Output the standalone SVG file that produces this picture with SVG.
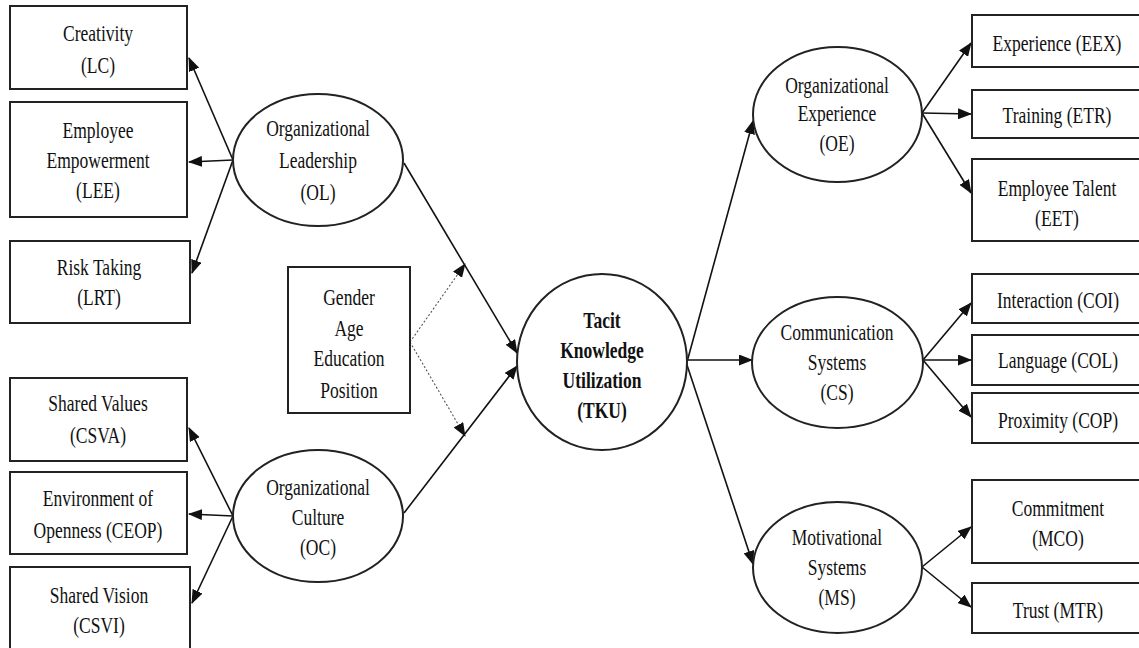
<svg xmlns="http://www.w3.org/2000/svg" width="1139" height="648" viewBox="0 0 1139 648">
<style>
.box{fill:#fff;stroke:#222;stroke-width:2}
.ell{fill:#fff;stroke:#222;stroke-width:2}
.t{font-family:"Liberation Serif","Times New Roman",serif;font-size:24px;fill:#111;text-anchor:middle}
.b{font-weight:bold}
.ln{stroke:#111;stroke-width:1.6;fill:none;marker-end:url(#ah)}
.dl{stroke:#555;stroke-width:1.1;fill:none;stroke-dasharray:2 2;marker-end:url(#ah)}
</style>
<defs>
<marker id="ah" markerWidth="14" markerHeight="11" refX="13" refY="5.5" orient="auto" markerUnits="userSpaceOnUse">
<path d="M0,0 L14,5.5 L0,11 z" fill="#111"/>
</marker>
</defs>
<rect width="1139" height="648" fill="#fff"/>

<g id="connectors">
<line class="ln" x1="233" y1="160" x2="189" y2="58"/>
<line class="ln" x1="233" y1="160" x2="189" y2="162"/>
<line class="ln" x1="233" y1="160" x2="192" y2="273"/>
<line class="ln" x1="233" y1="516" x2="189" y2="428"/>
<line class="ln" x1="233" y1="516" x2="189" y2="514"/>
<line class="ln" x1="233" y1="516" x2="192" y2="603"/>
<line class="ln" x1="404" y1="163" x2="517" y2="353"/>
<line class="ln" x1="404" y1="513" x2="517" y2="366"/>
<line class="dl" x1="410" y1="342" x2="465" y2="264"/>
<line class="dl" x1="410" y1="342" x2="465" y2="436"/>
<line class="ln" x1="687" y1="362" x2="753" y2="121"/>
<line class="ln" x1="688" y1="360" x2="752" y2="360"/>
<line class="ln" x1="686" y1="362" x2="753" y2="564"/>
<line class="ln" x1="922" y1="113" x2="971" y2="43"/>
<line class="ln" x1="922" y1="113" x2="971" y2="114"/>
<line class="ln" x1="922" y1="113" x2="971" y2="193"/>
<line class="ln" x1="923" y1="360" x2="971" y2="303"/>
<line class="ln" x1="923" y1="360" x2="971" y2="360"/>
<line class="ln" x1="923" y1="360" x2="971" y2="417"/>
<line class="ln" x1="922" y1="567" x2="971" y2="527"/>
<line class="ln" x1="922" y1="567" x2="971" y2="607"/>
</g>

<g id="LC">
<rect class="box" x="10" y="6" width="177" height="83"/>
<text class="t" transform="translate(98 0) scale(0.73 1)"><tspan x="0" y="41">Creativity</tspan><tspan x="0" y="73">(LC)</tspan></text>
</g>
<g id="LEE">
<rect class="box" x="10" y="102" width="177" height="115"/>
<text class="t" transform="translate(98 0) scale(0.73 1)"><tspan x="0" y="138">Employee</tspan><tspan x="0" y="168">Empowerment</tspan><tspan x="0" y="198">(LEE)</tspan></text>
</g>
<g id="LRT">
<rect class="box" x="10" y="241" width="180" height="82"/>
<text class="t" transform="translate(99 0) scale(0.73 1)"><tspan x="0" y="275">Risk Taking</tspan><tspan x="0" y="305">(LRT)</tspan></text>
</g>
<g id="CSVA">
<rect class="box" x="10" y="378" width="177" height="83"/>
<text class="t" transform="translate(98 0) scale(0.73 1)"><tspan x="0" y="411">Shared Values</tspan><tspan x="0" y="443">(CSVA)</tspan></text>
</g>
<g id="CEOP">
<rect class="box" x="10" y="472" width="177" height="82"/>
<text class="t" transform="translate(98 0) scale(0.73 1)"><tspan x="0" y="506">Environment of</tspan><tspan x="0" y="538">Openness (CEOP)</tspan></text>
</g>
<g id="CSVI">
<rect class="box" x="10" y="567" width="180" height="90"/>
<text class="t" transform="translate(99 0) scale(0.73 1)"><tspan x="0" y="603">Shared Vision</tspan><tspan x="0" y="633">(CSVI)</tspan></text>
</g>

<g id="OL">
<ellipse class="ell" cx="318" cy="160" rx="85" ry="66"/>
<text class="t" transform="translate(318 0) scale(0.73 1)"><tspan x="0" y="136">Organizational</tspan><tspan x="0" y="168">Leadership</tspan><tspan x="0" y="200">(OL)</tspan></text>
</g>
<g id="OC">
<ellipse class="ell" cx="318" cy="516" rx="85" ry="66"/>
<text class="t" transform="translate(318 0) scale(0.73 1)"><tspan x="0" y="495">Organizational</tspan><tspan x="0" y="525">Culture</tspan><tspan x="0" y="555">(OC)</tspan></text>
</g>

<g id="CTRL">
<rect class="box" x="288" y="267" width="122" height="146"/>
<text class="t" transform="translate(349 0) scale(0.73 1)"><tspan x="0" y="305">Gender</tspan><tspan x="0" y="336">Age</tspan><tspan x="0" y="366">Education</tspan><tspan x="0" y="398">Position</tspan></text>
</g>

<g id="TKU">
<ellipse class="ell" cx="602" cy="362" rx="85" ry="88"/>
<text class="t b" transform="translate(602 0) scale(0.73 1)"><tspan x="0" y="328">Tacit</tspan><tspan x="0" y="358">Knowledge</tspan><tspan x="0" y="388">Utilization</tspan><tspan x="0" y="418">(TKU)</tspan></text>
</g>

<g id="OE">
<ellipse class="ell" cx="837.5" cy="114.5" rx="84.5" ry="67.5"/>
<text class="t" transform="translate(837 0) scale(0.73 1)"><tspan x="0" y="93">Organizational</tspan><tspan x="0" y="121">Experience</tspan><tspan x="0" y="151">(OE)</tspan></text>
</g>
<g id="CS">
<ellipse class="ell" cx="837.5" cy="362.5" rx="85.5" ry="65.5"/>
<text class="t" transform="translate(837 0) scale(0.73 1)"><tspan x="0" y="340">Communication</tspan><tspan x="0" y="370">Systems</tspan><tspan x="0" y="400">(CS)</tspan></text>
</g>
<g id="MS">
<ellipse class="ell" cx="837.5" cy="567.5" rx="84.5" ry="65.5"/>
<text class="t" transform="translate(837 0) scale(0.73 1)"><tspan x="0" y="545">Motivational</tspan><tspan x="0" y="575">Systems</tspan><tspan x="0" y="605">(MS)</tspan></text>
</g>

<g id="EEX">
<rect class="box" x="972" y="15" width="175" height="52"/>
<text class="t" transform="translate(1057 0) scale(0.73 1)"><tspan x="0" y="51">Experience  (EEX)</tspan></text>
</g>
<g id="ETR">
<rect class="box" x="972" y="90" width="175" height="48"/>
<text class="t" transform="translate(1057 0) scale(0.73 1)"><tspan x="0" y="123">Training (ETR)</tspan></text>
</g>
<g id="EET">
<rect class="box" x="972" y="159" width="175" height="82"/>
<text class="t" transform="translate(1057 0) scale(0.73 1)"><tspan x="0" y="196">Employee Talent</tspan><tspan x="0" y="226">(EET)</tspan></text>
</g>
<g id="COI">
<rect class="box" x="972" y="274" width="175" height="49"/>
<text class="t" transform="translate(1058 0) scale(0.73 1)"><tspan x="0" y="308">Interaction (COI)</tspan></text>
</g>
<g id="COL">
<rect class="box" x="972" y="335" width="175" height="50"/>
<text class="t" transform="translate(1058 0) scale(0.73 1)"><tspan x="0" y="368">Language  (COL)</tspan></text>
</g>
<g id="COP">
<rect class="box" x="972" y="393" width="175" height="50"/>
<text class="t" transform="translate(1058 0) scale(0.73 1)"><tspan x="0" y="428">Proximity (COP)</tspan></text>
</g>
<g id="MCO">
<rect class="box" x="972" y="480" width="175" height="83"/>
<text class="t" transform="translate(1058 0) scale(0.73 1)"><tspan x="0" y="516">Commitment</tspan><tspan x="0" y="546">(MCO)</tspan></text>
</g>
<g id="MTR">
<rect class="box" x="972" y="583" width="175" height="50"/>
<text class="t" transform="translate(1058 0) scale(0.73 1)"><tspan x="0" y="618">Trust (MTR)</tspan></text>
</g>
</svg>
